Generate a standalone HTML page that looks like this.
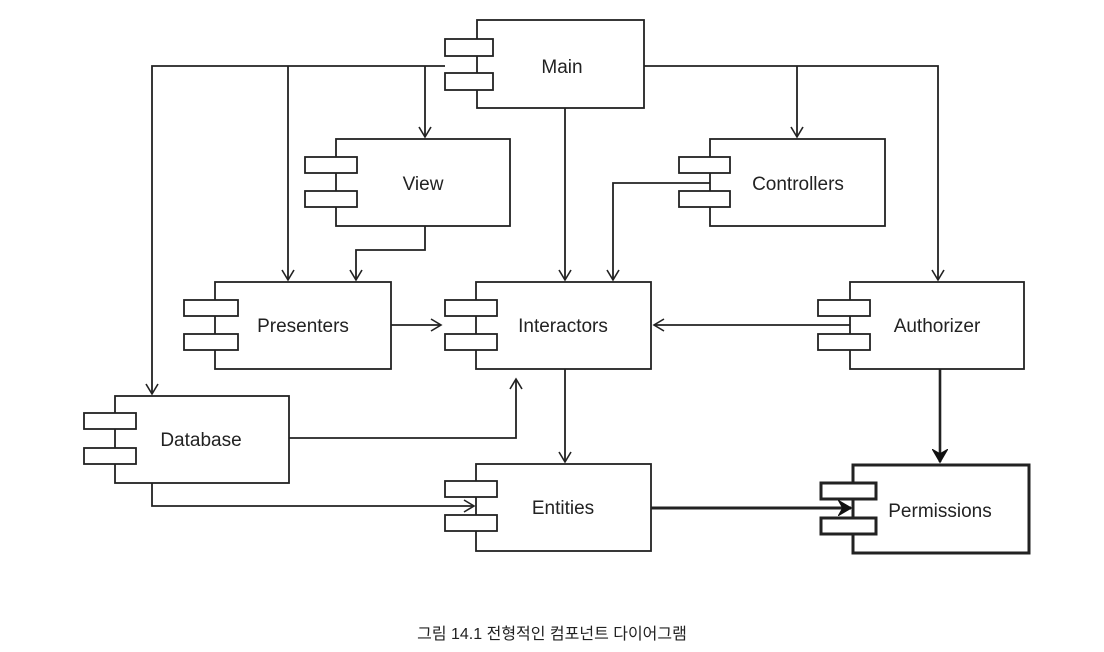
<!DOCTYPE html>
<html><head><meta charset="utf-8"><style>
body{margin:0;background:#fff;width:1104px;height:652px;overflow:hidden}
svg text{font-family:"Liberation Sans",sans-serif;font-size:19px;fill:#222}
.cap{position:absolute;left:0;top:620px;width:1104px;text-align:center;font-family:"Liberation Sans","Noto Sans CJK KR",sans-serif;font-size:16px;color:#222}
</style></head><body>
<svg width="1104" height="652" style="position:absolute;left:0;top:0">
<defs>
<marker id="a" markerWidth="14" markerHeight="14" refX="11" refY="7" orient="auto" markerUnits="userSpaceOnUse"><path d="M1,1 L11,7 L1,13" fill="none" stroke="#222" stroke-width="1.6"/></marker>
<marker id="b" markerWidth="16" markerHeight="16" refX="13" refY="8" orient="auto" markerUnits="userSpaceOnUse"><path d="M1,1 L13,8 L1,15 L5,8 Z" fill="#111" stroke="#111" stroke-width="1.5"/></marker>
</defs>
<g fill="none" stroke="#222" stroke-width="1.8">
<!-- boxes -->
<g fill="#fff">
<rect x="477" y="20" width="167" height="88"/><rect x="445" y="39" width="48" height="17"/><rect x="445" y="73" width="48" height="17"/>
<rect x="336" y="139" width="174" height="87"/><rect x="305" y="157" width="52" height="16"/><rect x="305" y="191" width="52" height="16"/>
<rect x="710" y="139" width="175" height="87"/><rect x="679" y="157" width="51" height="16"/><rect x="679" y="191" width="51" height="16"/>
<rect x="215" y="282" width="176" height="87"/><rect x="184" y="300" width="54" height="16"/><rect x="184" y="334" width="54" height="16"/>
<rect x="476" y="282" width="175" height="87"/><rect x="445" y="300" width="52" height="16"/><rect x="445" y="334" width="52" height="16"/>
<rect x="850" y="282" width="174" height="87"/><rect x="818" y="300" width="52" height="16"/><rect x="818" y="334" width="52" height="16"/>
<rect x="115" y="396" width="174" height="87"/><rect x="84" y="413" width="52" height="16"/><rect x="84" y="448" width="52" height="16"/>
<rect x="476" y="464" width="175" height="87"/><rect x="445" y="481" width="52" height="16"/><rect x="445" y="515" width="52" height="16"/>
<rect x="853" y="465" width="176" height="88" stroke-width="3"/><rect x="821" y="483" width="55" height="16" stroke-width="3"/><rect x="821" y="518" width="55" height="16" stroke-width="3"/>
</g>
<!-- connectors -->
<path d="M445,66 H152 V394" marker-end="url(#a)"/>
<path d="M288,66 V280" marker-end="url(#a)"/>
<path d="M425,66 V137" marker-end="url(#a)"/>
<path d="M565,108 V280" marker-end="url(#a)"/>
<path d="M644,66 H938 V280" marker-end="url(#a)"/>
<path d="M797,66 V137" marker-end="url(#a)"/>
<path d="M425,226 V250 H356 V280" marker-end="url(#a)"/>
<path d="M710,183 H613 V280" marker-end="url(#a)"/>
<path d="M391,325 H441" marker-end="url(#a)"/>
<path d="M850,325 H654" marker-end="url(#a)"/>
<path d="M289,438 H516 V379" marker-end="url(#a)"/>
<path d="M565,369 V462" marker-end="url(#a)"/>
<path d="M152,483 V506 H474" marker-end="url(#a)"/>
<path d="M651,508 H851" stroke-width="3" marker-end="url(#b)"/>
<path d="M940,369 V462" stroke-width="2.6" marker-end="url(#b)"/>
</g>
<g text-anchor="middle">
<text x="562" y="73">Main</text>
<text x="423" y="190">View</text>
<text x="798" y="190">Controllers</text>
<text x="303" y="332">Presenters</text>
<text x="563" y="332">Interactors</text>
<text x="937" y="332">Authorizer</text>
<text x="201" y="446">Database</text>
<text x="563" y="514">Entities</text>
<text x="940" y="517">Permissions</text>
</g>
</svg>
<div class="cap">그림 14.1 전형적인 컴포넌트 다이어그램</div>
</body></html>
